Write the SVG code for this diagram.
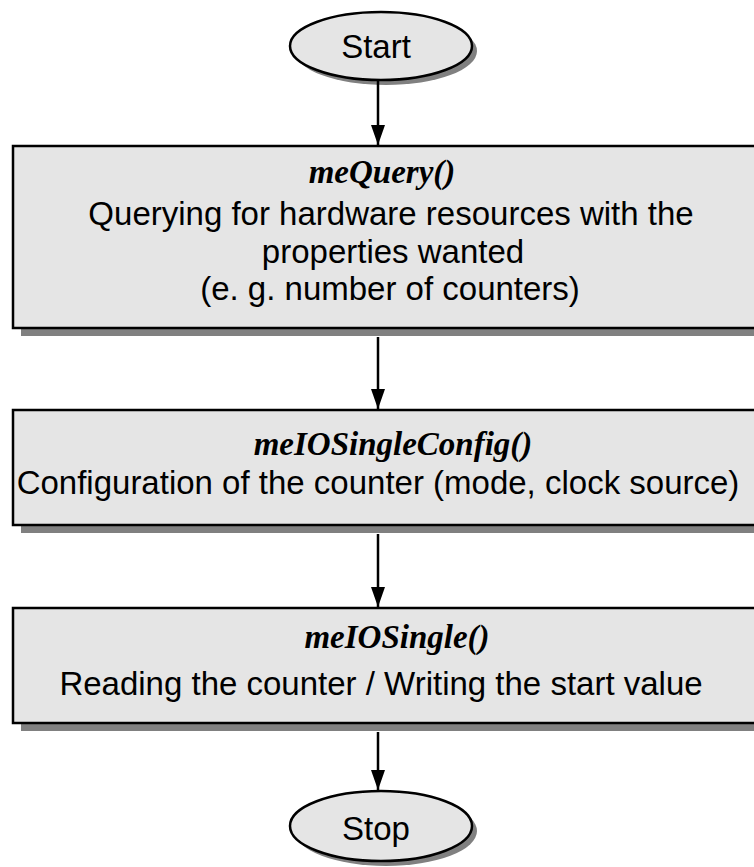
<svg xmlns="http://www.w3.org/2000/svg" width="754" height="867" viewBox="0 0 754 867">
<style>
.shadow{fill:#808080;stroke:none}
.node{fill:#e5e5e5;stroke:#000;stroke-width:2.5}
.t{font-family:"Liberation Sans",Arial,sans-serif;font-size:33px;fill:#000;text-anchor:middle}
.f{font-family:"Liberation Serif","Times New Roman",serif;font-size:33px;font-weight:bold;font-style:italic;fill:#000;text-anchor:middle}
.conn{stroke:#000;stroke-width:2.5;fill:none;marker-end:url(#arrow)}
</style>
<defs>
<marker id="arrow" markerWidth="20" markerHeight="14" refX="20" refY="7" orient="auto" markerUnits="userSpaceOnUse" viewBox="0 0 20 14">
<path d="M0,0 L20,7 L0,14 Z" fill="#000"/>
</marker>
</defs>
<rect width="754" height="867" fill="#fff"/>
<g id="start">
<ellipse class="shadow" cx="386" cy="51" rx="91" ry="34"/>
<ellipse class="node" cx="381" cy="46" rx="91" ry="34"/>
<text class="t" x="376" y="58">Start</text>
</g>
<g id="meQuery">
<rect class="shadow" x="21" y="154" width="760" height="182"/>
<rect class="node" x="13" y="146" width="760" height="182"/>
<text class="f" x="382" y="183">meQuery()</text>
<text class="t" x="391" y="225">Querying for hardware resources with the</text>
<text class="t" x="393" y="263">properties wanted</text>
<text class="t" x="390" y="300">(e. g. number of counters)</text>
</g>
<g id="meIOSingleConfig">
<rect class="shadow" x="21" y="418" width="760" height="115"/>
<rect class="node" x="13" y="410" width="760" height="115"/>
<text class="f" x="393" y="455">meIOSingleConfig()</text>
<text class="t" x="378" y="494">Configuration of the counter (mode, clock source)</text>
</g>
<g id="meIOSingle">
<rect class="shadow" x="21" y="616" width="760" height="115"/>
<rect class="node" x="13" y="608" width="760" height="115"/>
<text class="f" x="397" y="648">meIOSingle()</text>
<text class="t" x="381" y="695">Reading the counter / Writing the start value</text>
</g>
<g id="stop">
<ellipse class="shadow" cx="386" cy="831" rx="91" ry="35"/>
<ellipse class="node" cx="381" cy="826" rx="91" ry="35"/>
<text class="t" x="376" y="840">Stop</text>
</g>
<g id="connectors">
<line class="conn" x1="378" y1="81" x2="378" y2="145"/>
<line class="conn" x1="378" y1="337" x2="378" y2="409"/>
<line class="conn" x1="378" y1="534" x2="378" y2="607"/>
<line class="conn" x1="378" y1="732" x2="378" y2="790"/>
</g>
</svg>
